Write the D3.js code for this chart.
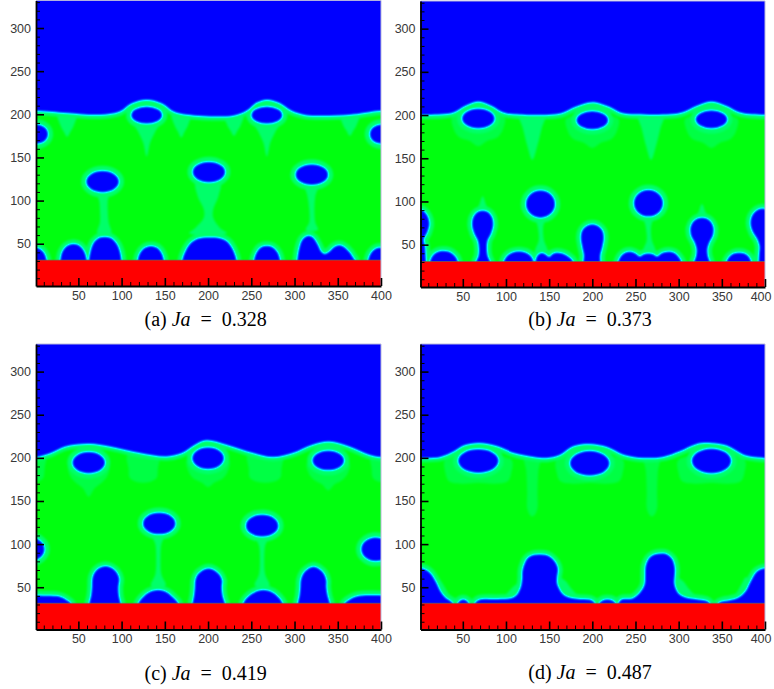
<!DOCTYPE html>
<html><head><meta charset="utf-8">
<script src="https://cdn.jsdelivr.net/npm/d3@7"></script>
<style>html,body{margin:0;padding:0;background:#fff;} svg{display:block;}</style>
</head><body>
<script>
// ---------------- data (lattice units) ----------------
const xTicks = [50,100,150,200,250,300,350,400];
const yTicks = [50,100,150,200,250,300];
const xMinor = [10,20,30,40,60,70,80,90,110,120,130,140,160,170,180,190,210,220,230,240,260,270,280,290,310,320,330,340,360,370,380,390];
const yMinor = [10,20,30,40,60,70,80,90,110,120,130,140,160,170,180,190,210,220,230,240,260,270,280,290,310,320,330];
const panelLabels = ["(a)","(b)","(c)","(d)"];
const jaValues = ["0.328","0.373","0.419","0.487"];
const wallTops = [31, 30.5, 31.4, 31.4];

// liquid/vapour interface profiles [x, y]
const aInterface = [[1,203.8],[36,201.2],[75,199.2],[98,203],[112,212.5],[129,216.6],[146,212.5],[160,203],[176,199.2],[229,198],[245,204],[256,213],[268,216.6],[282,213],[296,204],[312,199],[364,199.2],[400,203.8]];
const bInterface = [[1,200],[25,200.5],[40,203],[52,210],[68,215.5],[84,210],[96,203],[110,200.5],[150,200],[165,202],[180,209],[200,214.5],[220,209],[233,202.5],[250,200.5],[290,200.5],[305,203],[320,210],[338,215.5],[356,210],[370,203],[385,200.5],[400,200]];
const cInterface = [[1,200.7],[18,205.4],[35,213],[62.6,216.2],[86,213],[121,205.4],[152,201.4],[170,205.4],[185,215],[198,220],[221,215],[252,205.4],[275,200.7],[298,205.4],[321,215],[340,218.8],[363,213],[386,203.4],[400,200.7]];
const dInterface = [[1,199.6],[24,200.8],[40,207.3],[51,213.9],[68.6,217],[90,213.1],[109,205.4],[132,200.8],[147.5,199.6],[163,203.4],[178,213.1],[196.8,215.8],[217,212.3],[236,203.4],[259,199.6],[282,200.8],[301.5,207.3],[321,215.8],[337,217],[355.5,213.9],[375,203.4],[390,200.4],[400,199.6]];

// detached bubbles [cx, cy, rx, ry]
const aBubbles = [[129,199,18,10],[268,199,18,10],[401,177,14,11.5],[78,122,19,12.5],[201,133,19,12],[320,130,19,12]];
const bBubbles = [[68,196,19,11.5],[200,194,18.5,10.6],[338,195,18.5,10.6],[140,97,17,16],[265,98,17,15.5]];
const cBubbles = [[62,194.5,19,12.5],[200,199.6,18.5,12.8],[339,197,18.5,11.5],[143.5,124,19,12.7],[262.5,121.4,19,13],[394,94,17,14]];
const dBubbles = [[68,196.4,23.5,14],[197,193.7,23,14.5],[338,196.4,23,14.5]];

// wall-attached vapour outlines [x, y]
const aWall = [
 [[384,22],[385,31],[388,39],[393,44],[399,45.5],[405,44.5],[410,40],[413,33],[413.5,22]],
 [[28,22],[29,31],[31,40],[36,47],[44,50],[52,47.5],[57,41],[59.5,33],[60,22]],
 [[61,22],[62,31],[64,42],[68,52],[75,57.5],[82,58],[89,56],[95,49],[98.5,40],[100,31],[100.5,22]],
 [[118,22],[118.5,31],[121,39],[127,45.5],[134,47.5],[141,45.5],[146.5,39],[149,31],[149.5,22]],
 [[169,22],[170,31],[173,40],[179,50],[188,56],[200,57.5],[212,57],[222,53],[228,45],[231.5,37],[233,31],[233.5,22]],
 [[252.5,22],[253,31],[256,40],[261,46],[268,47.7],[275,46],[280.5,40],[283.5,31],[284,22]],
 [[302.5,22],[303,31],[305,44],[309,55],[316,59.5],[322,57],[327,49],[331,41],[335,38.5],[340,41],[346,46.5],[352,48.5],[358,46],[364,40],[368,34],[370,31],[370.5,22]]
];
const bWall = [
 [[392,22],[392.5,31],[393,40],[393.5,48],[391,56],[386,64],[383,74],[384.5,83],[390,89.5],[397,92],[404,89.5],[409.5,83],[411.5,74],[409,64],[405,56],[406.5,48],[407,40],[407.5,31],[408,22]],
 [[11.5,22],[12,31],[15,37.5],[20,41.5],[27,43],[34,42],[40,38],[43.5,33],[44.5,22]],
 [[64.5,22],[65.5,31],[68,37],[68.5,46],[67,55],[63,63],[60.5,73],[62,82],[67,88],[73,89.5],[79,88],[84,82],[85.5,73],[83,63],[79,55],[78,46],[79,37],[81.5,31],[82.5,22]],
 [[97,22],[97.5,31],[101,37],[107,41],[115,42.5],[123,41],[129,37],[132,31],[132.5,22]],
 [[133.5,22],[134,31],[136,37],[141,40.5],[146,39],[150,36],[154,39.5],[160,41],[168,39],[174,35],[177.5,31],[178,22]],
 [[189,22],[189.5,31],[190,38],[188,48],[186.5,58],[188,66],[193,71.5],[200,73.5],[207,71.5],[212,66],[213.5,58],[212,48],[209.5,38],[209.5,31],[210,22]],
 [[229.5,22],[230,31],[233,37],[238,41],[244,42],[250,40],[255,36.5],[259,39],[265,40],[271,39],[275,36.5],[280,40],[288,42],[295,40.5],[300,36],[303,31],[303.5,22]],
 [[317.5,22],[318,31],[320,37],[320.5,45],[318,53],[314,61],[313.5,70],[317,77],[322,80.5],[327,81.5],[332,80.5],[337,77],[340.5,70],[340,61],[336,53],[333.5,45],[334,37],[336,31],[336.5,22]],
 [[355,22],[355.5,31],[359,36.5],[364,40],[370,41],[376,40],[381,36.5],[384,31],[384.5,22]]
];
const cWall = [
 [[357,22],[358,31.5],[362,35],[368,38.5],[376,40.5],[390,41],[410,40.5],[425,40],[432,38],[437,35],[441,32],[442.5,22]],
 [[62,22],[62.5,31.5],[64.5,40],[65.5,50],[66,60],[68.5,67],[74,72.5],[81,74.7],[88,73],[94,68],[97.5,60],[96.5,50],[97,40],[99,31.5],[99.5,22]],
 [[118.5,22],[119.3,31.5],[124,38],[131,44],[142.4,47],[153,44],[160,38],[165.6,31.5],[166.5,22]],
 [[181,22],[181.8,31.5],[183.5,40],[184.5,50],[185,58],[188,65],[194,70],[200.7,72],[207,70],[213,65],[216.5,58],[216,50],[217,40],[219.6,31.5],[220.5,22]],
 [[240,22],[240.7,31.5],[245,38],[253,44],[264,47],[275,44],[282,38],[286.3,31.5],[287,22]],
 [[303,22],[303.6,31.5],[305.5,40],[306.5,50],[307,58],[310,66],[315.5,71.5],[322,73.9],[328.5,71.5],[334,66],[337,58],[337,50],[338.5,40],[341,31.5],[341.5,22]]
];
const dWall = [
 [[345,22],[346,31.5],[352,34],[358,35],[369,38],[377,45],[383,56.5],[390,68],[396,71.5],[403,72],[408,70],[413,66],[419,56.5],[424.5,45],[430,38],[436,34],[438.5,31.5],[439,22]],
 [[43,22],[44,31.5],[47,35],[50.5,36],[54,35],[57,31.5],[58,22]],
 [[63,22],[64,31.5],[70,36],[90,36.5],[106,37.5],[112,41],[117,50.7],[118.5,60],[119,70],[124.7,83.6],[131,87.3],[139,88.2],[147,87.3],[153.6,83.6],[159,76],[160.5,70],[159.4,62],[159.4,54.6],[162,48],[165.2,43],[170,39.5],[176.7,37.5],[186,36.5],[196,36],[201,34],[203,31.5],[203.5,22]],
 [[207.5,22],[208,31.5],[212,35],[217.5,36],[223,35],[227,31.5],[227.5,22]],
 [[229.5,22],[230,31.5],[234,36],[246,37],[251,40],[255.6,44.9],[259,50],[260.6,54.6],[261,64],[261.4,73.9],[263.5,80.5],[267.2,85.5],[273,88.5],[279.9,89.4],[286,88.5],[292.2,83.6],[295,77],[296,70],[295.5,62],[295.2,54.6],[297,48],[299.9,43],[305,39.5],[311.4,37.5],[320,36.5],[327,35.5],[333,34],[336,31.5],[336.5,22]]
];

// light-green transition zones (halos, wakes, drips) [x, y]
const aHalos = [
 [[113,192],[119,180],[125,167],[129,151],[133,167],[139,180],[145,192]],
 [[252,192],[258,180],[264,167],[268,151],[272,167],[278,180],[284,192]],
 [[26,201],[29,188],[33,180],[37,174],[41,180],[45,188],[48,201]],
 [[158,201],[161,188],[165,180],[169,173],[173,180],[177,188],[180,201]],
 [[219,200],[222,188],[226,181],[230,175],[234,181],[238,188],[241,200]],
 [[353,200],[356,188],[360,181],[364,175],[368,181],[372,188],[375,200]],
 [[70,112],[74,100],[75,88],[75,75],[72,62],[88,62],[85,75],[84,88],[84,100],[86,112]],
 [[186,122],[188,105],[195,90],[195,80],[185,68],[178,62],[222,62],[214,68],[206,80],[206,90],[212,105],[214,122]],
 [[312,120],[315,105],[317,90],[317,75],[313,66],[327,66],[324,75],[323,90],[324,105],[328,120]]
];
const bHalos = [
 [[115.5,201],[119.5,185],[124.5,165],[130.5,148],[136.5,165],[141.5,185],[145.5,201]],
 [[253,201],[257,185],[262,165],[268,148],[274,165],[279,185],[283,201]],
 [[63,84],[69,96],[73,106],[77,96],[83,84]],
 [[317,76],[323,88],[327,97],[331,88],[337,76]],
 [[134,85],[137,70],[138,55],[134,42],[148,42],[144,55],[143,70],[146,85]],
 [[259,86],[262,70],[263,55],[259,42],[273,42],[269,55],[268,70],[271,86]]
];
const cHalos = [
 [[135,112],[139,100],[140,85],[139,65],[134,52],[151,52],[146,65],[145,85],[146,100],[150,112]],
 [[255,110],[259,98],[260,85],[259,65],[254,52],[271,52],[266,65],[265,85],[266,98],[270,110]]
];
const dHalos = [
 [[92,35],[100,42],[110,52],[117,56],[117,35]],
 [[160,62],[168,58],[176,48],[184,40],[190,35],[160,35]],
 [[240,35],[248,42],[256,52],[261,57],[261,35]],
 [[296,62],[304,58],[312,48],[320,40],[326,35],[296,35]],
 [[360,35],[366,42],[372,52],[378,62],[382,35]],
 [[420,62],[428,52],[434,42],[444,35],[420,35]]
];
const aFaint = [];
const bFaint = [
 [[38,198],[39,185],[45,175],[58,170],[68,164],[78,170],[91,175],[97,185],[98,198]],
 [[170,196],[171,183],[177,173],[190,168],[200,162],[210,168],[223,173],[229,183],[230,196]],
 [[308,196],[309,183],[315,173],[328,168],[338,162],[348,168],[361,173],[367,183],[368,196]]
];
const cFaint = [
 [[39,192],[40,180],[46,172],[55,165],[62,155],[69,165],[78,172],[84,180],[85,192]],
 [[176,198],[177,185],[183,176],[193,171],[200,166],[207,171],[217,176],[223,185],[224,198]],
 [[315,195],[316,183],[322,175],[332,169],[339,162],[346,169],[356,175],[362,183],[363,195]],
 [[107,204],[108,188],[110,176],[125,171],[140,176],[142,188],[143,204]],
 [[246,204],[247,188],[249,176],[266,171],[283,176],[285,188],[286,204]],
 [[388,204],[389,188],[391,176],[400,172],[409,176],[411,188],[412,204]]
];
const dFaint = [
 [[30,198],[30,182],[34,173],[50,170],[68,171],[86,170],[102,173],[106,182],[106,198]],
 [[159,198],[159,182],[163,173],[179,170],[197,171],[215,170],[231,173],[235,182],[235,198]],
 [[300,198],[300,182],[304,173],[320,170],[338,171],[356,170],[372,173],[376,182],[376,198]],
 [[121.5,201],[123.5,185],[124.5,160],[124.5,142],[127.5,134],[130.5,132],[133.5,134],[136.5,142],[136.5,160],[137.5,185],[139.5,201]],
 [[260,201],[262,185],[263,160],[263,142],[266,134],[269,132],[272,134],[275,142],[275,160],[276,185],[278,201]]
];

// ---------------- assembly ----------------
const panels = [
 {iface:aInterface, bubbles:aBubbles, wall:aWall, halos:aHalos, faint:aFaint},
 {iface:bInterface, bubbles:bBubbles, wall:bWall, halos:bHalos, faint:bFaint},
 {iface:cInterface, bubbles:cBubbles, wall:cWall, halos:cHalos, faint:cFaint},
 {iface:dInterface, bubbles:dBubbles, wall:dWall, halos:dHalos, faint:dFaint}
];
const layout = [
 {left:36, right:381, top:0.4, bottom:286, capX:205.7, capY:326, edge:false},
 {left:420.5, right:765, top:1, bottom:287, capX:590, capY:326, edge:true},
 {left:36, right:381, top:344, bottom:629.5, capX:205.7, capY:680, edge:false},
 {left:420.5, right:765, top:344, bottom:629.5, capX:590, capY:679, edge:true}
];

const W = 774, H = 689;
const svg = d3.select("body").append("svg").attr("width", W).attr("height", H);
const defs = svg.append("defs");
const filt = defs.append("filter").attr("id","phase")
  .attr("color-interpolation-filters","sRGB")
  .attr("x","-2%").attr("y","-2%").attr("width","104%").attr("height","104%");
filt.append("feGaussianBlur").attr("stdDeviation", 1.3).attr("result","b");
const ct = filt.append("feComponentTransfer").attr("in","b");
ct.append("feFuncR").attr("type","table").attr("tableValues","0 0");
ct.append("feFuncG").attr("type","table").attr("tableValues","1 1 1 0.5 0");
ct.append("feFuncB").attr("type","table").attr("tableValues","0.06 0.45 1 1 1");

const HALO = "rgb(58,58,58)", FAINT = "rgb(34,34,34)";
const offsets = [-400, 0, 400];
const tickFont = "'Liberation Sans', Arial, Helvetica, sans-serif";

panels.forEach((p, i) => {
  const L = layout[i];
  const x = d3.scaleLinear().domain([1, 400]).range([L.left, L.right]);
  const y = d3.scaleLinear().domain([1, 332]).range([L.bottom, L.top]);
  defs.append("clipPath").attr("id", "clip" + i).append("rect")
    .attr("x", L.left).attr("y", L.top).attr("width", L.right - L.left).attr("height", L.bottom - L.top);

  const root = svg.append("g");
  const field = root.append("g").attr("clip-path", `url(#clip${i})`)
    .append("g").attr("filter", "url(#phase)");

  field.append("rect").attr("x", x(-60)).attr("y", y(380))
    .attr("width", x(460) - x(-60)).attr("height", y(-30) - y(380)).attr("fill", "#fff");

  const n = p.iface.length;
  const iface = [[-60, p.iface[0][1]], ...p.iface, [460, p.iface[n-1][1]]];
  const liquid = d3.area().x(d => x(d[0])).y0(y(-30)).y1(d => y(d[1])).curve(d3.curveCatmullRom);
  const vapour = d3.area().x(d => x(d[0])).y0(y(380)).y1(d => y(d[1])).curve(d3.curveCatmullRom);
  const ifLine = d3.line().x(d => x(d[0])).y(d => y(d[1])).curve(d3.curveCatmullRom);
  const outline = off => d3.line().x(d => x(d[0] + off)).y(d => y(d[1])).curve(d3.curveCatmullRomClosed.alpha(0.5));
  const rxPx = v => x(v) - x(0), ryPx = v => y(0) - y(v);

  field.append("path").attr("d", liquid(iface)).attr("fill", "#000");

  offsets.forEach(off => p.faint.forEach(s =>
    field.append("path").attr("d", outline(off)(s)).attr("fill", FAINT)));
  offsets.forEach(off => p.halos.forEach(s =>
    field.append("path").attr("d", outline(off)(s)).attr("fill", HALO)));

  field.append("path").attr("d", ifLine(iface)).attr("fill", "none")
    .attr("stroke", HALO).attr("stroke-width", 8);

  offsets.forEach(off => {
    p.bubbles.forEach(b => field.append("ellipse")
      .attr("cx", x(b[0] + off)).attr("cy", y(b[1])).attr("rx", rxPx(b[2])).attr("ry", ryPx(b[3]))
      .attr("fill", HALO).attr("stroke", HALO).attr("stroke-width", 10));
    p.wall.forEach(s => field.append("path").attr("d", outline(off)(s))
      .attr("fill", HALO).attr("stroke", HALO).attr("stroke-width", 9).attr("stroke-linejoin","round"));
  });

  field.append("path").attr("d", vapour(iface)).attr("fill", "#fff");

  offsets.forEach(off => {
    p.bubbles.forEach(b => field.append("ellipse")
      .attr("cx", x(b[0] + off)).attr("cy", y(b[1])).attr("rx", rxPx(b[2])).attr("ry", ryPx(b[3]))
      .attr("fill", "#fff"));
    p.wall.forEach(s => field.append("path").attr("d", outline(off)(s)).attr("fill", "#fff"));
  });

  // heated wall
  const wt = wallTops[i];
  root.append("rect").attr("x", L.left).attr("y", y(wt))
    .attr("width", L.right - L.left).attr("height", L.bottom - y(wt)).attr("fill", "#ff0000");
  root.append("line").attr("x1", L.left).attr("x2", L.right).attr("y1", y(wt)).attr("y2", y(wt))
    .attr("stroke", "#707050").attr("stroke-width", 0.9).attr("stroke-opacity", 0.7);

  // frame (top/right)
  root.append("path").attr("d", `M${L.left},${L.top}H${L.right}V${L.bottom}`)
    .attr("fill", "none").attr("stroke", "#b8b8dc").attr("stroke-width", 1);

  // minor ticks
  root.append("g").attr("transform", `translate(0,${L.bottom})`)
    .call(d3.axisBottom(x).tickValues(xMinor).tickSize(-4).tickFormat(""))
    .call(g => g.select(".domain").remove())
    .call(g => g.selectAll("line").attr("stroke", "#000").attr("stroke-width", 1));
  root.append("g").attr("transform", `translate(${L.left},0)`)
    .call(d3.axisLeft(y).tickValues(yMinor).tickSize(-4).tickFormat(""))
    .call(g => g.select(".domain").remove())
    .call(g => g.selectAll("line").attr("stroke", "#000").attr("stroke-width", 1));

  // major axes
  const gx = root.append("g").attr("transform", `translate(0,${L.bottom})`)
    .call(d3.axisBottom(x).tickValues(xTicks).tickSize(-8).tickSizeOuter(0).tickPadding(5));
  const gy = root.append("g").attr("transform", `translate(${L.left},0)`)
    .call(d3.axisLeft(y).tickValues(yTicks).tickSize(-8).tickSizeOuter(0).tickPadding(5));
  [gx, gy].forEach(g => {
    g.attr("font-family", tickFont).attr("font-size", 12.5);
    g.select(".domain").attr("stroke", "#000").attr("stroke-width", 1.8);
    g.selectAll(".tick line").attr("stroke", "#000").attr("stroke-width", 1.6);
    g.selectAll(".tick text").attr("fill", "#383838");
  });
  if (L.edge) {
    // keep the last label inside the page
    gx.selectAll(".tick text").filter(d => d === 400).attr("text-anchor", "end").attr("dx", "6");
  }

  // caption
  const t = root.append("text").attr("x", L.capX).attr("y", L.capY)
    .attr("text-anchor", "middle").attr("fill", "#000")
    .style("font-family", "'Liberation Serif', 'DejaVu Serif', serif").style("font-size", "20px");
  t.append("tspan").text(panelLabels[i] + " ");
  t.append("tspan").style("font-style", "italic").text("Ja");
  t.append("tspan").text("\u2002=\u2002" + jaValues[i]);
});
</script>
</body></html>
